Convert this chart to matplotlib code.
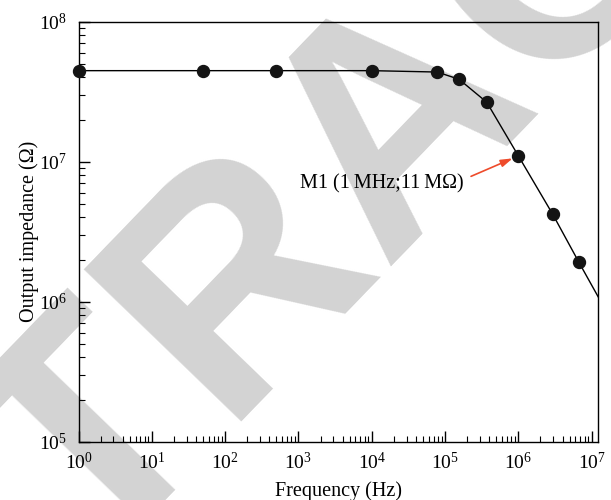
import matplotlib
matplotlib.use('Agg')
import matplotlib.pyplot as plt
from matplotlib.ticker import LogLocator, NullFormatter

plt.rcParams['font.family'] = ['Liberation Serif', 'DejaVu Serif']
plt.rcParams['mathtext.fontset'] = 'custom'
plt.rcParams['mathtext.rm'] = 'Liberation Serif'
plt.rcParams['mathtext.it'] = 'Liberation Serif:italic'

# data (Hz, ohm)
freq = [1, 50, 500, 1e4, 7.8e4, 1.55e5, 3.7e5, 1e6, 2.95e6, 6.7e6, 1.23e7]
impedance = [4.47e7, 4.47e7, 4.47e7, 4.47e7, 4.37e7, 3.88e7, 2.66e7, 1.1e7, 4.2e6, 1.91e6, 1.08e6]
n_marked = 10  # last value only shows where the line leaves the frame

m1_label = 'M1 (1\u2009MHz;11\u2009M\u03a9)'

fig = plt.figure(figsize=(6.11, 5.0), dpi=100)

# grey watermark behind everything
fig.text(0.752, 0.652, 'RETRACTED', fontsize=228, fontweight='bold',
         family='Liberation Sans', color='#d3d3d3', rotation=46,
         rotation_mode='anchor', ha='center', va='baseline', zorder=0)

ax = fig.add_axes([0.1285, 0.1166, 0.8507, 0.8400])
ax.set_facecolor('none')
ax.set_zorder(2)

ax.plot(freq, impedance, color='black', lw=1.0, zorder=3)
ax.plot(freq[:n_marked], impedance[:n_marked], 'o', color='#141414', ms=8.6,
        zorder=4, clip_on=False)

ax.set_xscale('log')
ax.set_yscale('log')
ax.set_xlim(1, 1.23e7)
ax.set_ylim(1e5, 1e8)

ax.xaxis.set_major_locator(LogLocator(base=10, numticks=10))
ax.xaxis.set_minor_locator(LogLocator(base=10, subs=range(2, 10), numticks=20))
ax.yaxis.set_major_locator(LogLocator(base=10, numticks=10))
ax.yaxis.set_minor_locator(LogLocator(base=10, subs=range(2, 10), numticks=20))
ax.xaxis.set_minor_formatter(NullFormatter())
ax.yaxis.set_minor_formatter(NullFormatter())

ax.tick_params(which='both', direction='in', top=False, right=False, labelsize=14)
ax.tick_params(which='major', length=8, width=1)
ax.tick_params(which='minor', length=4.5, width=0.8)
ax.tick_params(axis='x', which='major', pad=7)
ax.tick_params(axis='y', which='major', pad=8)
for s in ax.spines.values():
    s.set_linewidth(1.0)

ax.set_xlabel('Frequency (Hz)', fontsize=14.5, labelpad=6)
ax.set_ylabel('Output impedance (\u03a9)', fontsize=14.5, labelpad=0)

ax.text(1.38e4, 6.9e6, m1_label, fontsize=14.5, ha='center', va='center', zorder=5)
ax.annotate('', xy=(freq[7], impedance[7]), xytext=(2.26e5, 7.86e6),
            arrowprops=dict(arrowstyle='-|>,head_length=0.7,head_width=0.22',
                            color='#ee4b2b', lw=1.2, shrinkA=0, shrinkB=4.5),
            zorder=5)

fig.savefig('out.png', dpi=100)
